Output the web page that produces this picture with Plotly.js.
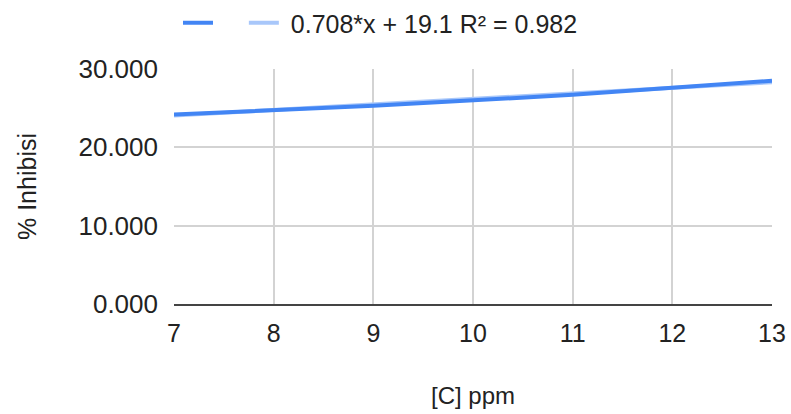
<!DOCTYPE html>
<html><head><meta charset="utf-8">
<script src="https://cdn.plot.ly/plotly-3.0.1.min.js"></script>
<style>html,body{margin:0;padding:0;background:#fff}#c{width:791px;height:414px}</style>
</head><body><div id="c"></div>
<script>
const concentration = [7, 9, 11, 13];
const inhibition = [24.2, 25.3, 26.7, 28.5];
const trendSlope = 0.708;
const trendIntercept = 19.1;
const trendLabel = "0.708*x + 19.1 R² = 0.982";
const xTicks = [7, 8, 9, 10, 11, 12, 13];
const yTicks = [0, 10, 20, 30];
const yTickLabels = ["0.000", "10.000", "20.000", "30.000"];

const trendX = [concentration[0], concentration[concentration.length-1]];
const trendY = trendX.map(x => trendSlope * x + trendIntercept);

const font = "Liberation Sans, Arial, sans-serif";
const txt = "#222222";
Plotly.newPlot("c", [
  {x: trendX, y: trendY, mode: "lines", name: "\u00a0" + trendLabel, legendrank: 2,
   line: {color: "#A8C7FA", width: 4}},
  {x: concentration, y: inhibition, mode: "lines", name: "\u00a0\u00a0\u00a0", legendrank: 1,
   line: {color: "#4285F4", width: 4}}
], {
  width: 791, height: 414,
  margin: {l: 174, r: 19, t: 69, b: 110},
  paper_bgcolor: "#fff", plot_bgcolor: "#fff",
  font: {family: font, size: 25, color: txt},
  showlegend: true,
  legend: {orientation: "h", xref: "container", x: 178/791, xanchor: "left",
           yref: "container", y: 1, yanchor: "top",
           font: {size: 25, color: txt}, itemwidth: 30},
  xaxis: {range: [7, 13], tickvals: xTicks, ticks: "", showgrid: true, gridcolor: "#d3d3d3",
          gridwidth: 2, zeroline: false, showline: true, linecolor: "#444", linewidth: 2,
          tickfont: {size: 25, color: txt}, ticklabelstandoff: 6,
          title: {text: "[C] ppm", font: {size: 24, color: txt}, standoff: 41}},
  yaxis: {range: [0, 30], tickvals: yTicks, ticktext: yTickLabels, ticks: "",
          showgrid: true, gridcolor: "#d3d3d3", gridwidth: 2, zeroline: false, showline: false,
          tickfont: {size: 26, color: txt}, ticklabelstandoff: 15,
          title: {text: "% Inhibisi", font: {size: 25, color: txt}, standoff: 34}}
}, {displayModeBar: false, staticPlot: true});
</script></body></html>
